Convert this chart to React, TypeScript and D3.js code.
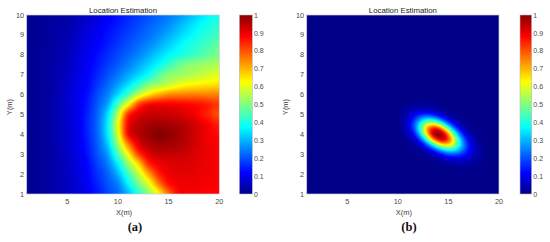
import React, { useMemo } from 'react';
import * as d3 from 'd3';

const W = 550;
const H = 242;

// ---------- Panel (a): values at x = 1..20 (columns), y = 10..1 step 0.5 (rows) ----------
const xA = [1, 2, 3, 4, 5, 6, 7, 8, 9, 10, 11, 12, 13, 14, 15, 16, 17, 18, 19, 20];
const yA = [10, 9.5, 9, 8.5, 8, 7.5, 7, 6.5, 6, 5.5, 5, 4.5, 4, 3.5, 3, 2.5, 2, 1.5, 1];
const rowA100 = [0.01, 0.01, 0.02, 0.02, 0.03, 0.045, 0.06, 0.085, 0.11, 0.135, 0.156, 0.177, 0.198, 0.219, 0.24, 0.268, 0.304, 0.34, 0.372, 0.39];
const rowA095 = [0.01, 0.015, 0.02, 0.03, 0.035, 0.057, 0.08, 0.10, 0.123, 0.146, 0.168, 0.19, 0.213, 0.235, 0.262, 0.297, 0.333, 0.368, 0.395, 0.415];
const rowA090 = [0.01, 0.015, 0.02, 0.03, 0.04, 0.064, 0.087, 0.111, 0.135, 0.159, 0.183, 0.207, 0.231, 0.257, 0.292, 0.326, 0.361, 0.392, 0.418, 0.44];
const rowA085 = [0.01, 0.015, 0.02, 0.035, 0.045, 0.07, 0.095, 0.12, 0.146, 0.173, 0.199, 0.226, 0.254, 0.29, 0.327, 0.364, 0.395, 0.42, 0.445, 0.47];
const rowA080 = [0.01, 0.015, 0.025, 0.035, 0.05, 0.077, 0.103, 0.131, 0.161, 0.19, 0.22, 0.25, 0.289, 0.328, 0.367, 0.394, 0.42, 0.447, 0.474, 0.50];
const rowA075 = [0.01, 0.015, 0.025, 0.04, 0.055, 0.083, 0.111, 0.142, 0.176, 0.211, 0.245, 0.287, 0.331, 0.375, 0.427, 0.479, 0.508, 0.522, 0.536, 0.55];
const rowA070 = [0.01, 0.015, 0.025, 0.04, 0.06, 0.09, 0.118, 0.157, 0.198, 0.238, 0.284, 0.332, 0.382, 0.456, 0.507, 0.526, 0.544, 0.563, 0.581, 0.60];
const rowA065 = [0.01, 0.015, 0.025, 0.04, 0.065, 0.095, 0.125, 0.174, 0.223, 0.279, 0.343, 0.417, 0.50, 0.536, 0.571, 0.607, 0.63, 0.64, 0.65, 0.66];
const rowA060 = [0.01, 0.015, 0.025, 0.045, 0.07, 0.10, 0.136, 0.193, 0.25, 0.339, 0.443, 0.563, 0.652, 0.706, 0.742, 0.75, 0.755, 0.755, 0.752, 0.75];
const rowA055 = [0.01, 0.015, 0.025, 0.045, 0.07, 0.10, 0.145, 0.21, 0.29, 0.458, 0.625, 0.806, 0.88, 0.89, 0.89, 0.885, 0.877, 0.865, 0.845, 0.82];
const rowA050 = [0.01, 0.015, 0.025, 0.045, 0.07, 0.10, 0.153, 0.222, 0.344, 0.562, 0.833, 0.91, 0.93, 0.935, 0.93, 0.92, 0.905, 0.875, 0.84, 0.80];
const rowA045 = [0.01, 0.015, 0.025, 0.045, 0.07, 0.10, 0.157, 0.228, 0.367, 0.613, 0.88, 0.945, 0.965, 0.975, 0.97, 0.96, 0.94, 0.91, 0.88, 0.85];
const rowA040 = [0.01, 0.015, 0.025, 0.045, 0.07, 0.10, 0.154, 0.225, 0.358, 0.59, 0.875, 0.95, 0.98, 1.0, 0.99, 0.97, 0.945, 0.915, 0.89, 0.87];
const rowA035 = [0.01, 0.015, 0.025, 0.045, 0.07, 0.095, 0.146, 0.215, 0.324, 0.529, 0.75, 0.905, 0.955, 0.975, 0.97, 0.96, 0.94, 0.915, 0.895, 0.88];
const rowA030 = [0.01, 0.015, 0.025, 0.04, 0.065, 0.09, 0.138, 0.204, 0.28, 0.45, 0.625, 0.813, 0.905, 0.935, 0.94, 0.935, 0.925, 0.91, 0.895, 0.885];
const rowA025 = [0.01, 0.015, 0.025, 0.04, 0.06, 0.09, 0.125, 0.185, 0.244, 0.363, 0.518, 0.661, 0.833, 0.89, 0.91, 0.915, 0.915, 0.905, 0.895, 0.885];
const rowA020 = [0.01, 0.015, 0.025, 0.04, 0.06, 0.085, 0.12, 0.167, 0.219, 0.30, 0.434, 0.56, 0.708, 0.841, 0.895, 0.905, 0.905, 0.90, 0.893, 0.885];
const rowA015 = [0.01, 0.015, 0.025, 0.04, 0.055, 0.08, 0.113, 0.154, 0.202, 0.25, 0.364, 0.488, 0.594, 0.75, 0.864, 0.89, 0.895, 0.895, 0.89, 0.885];
const rowA010 = [0.01, 0.015, 0.025, 0.04, 0.055, 0.078, 0.106, 0.142, 0.185, 0.228, 0.302, 0.406, 0.511, 0.625, 0.775, 0.88, 0.885, 0.885, 0.88, 0.88];
const gridA = [
  rowA100, rowA095, rowA090, rowA085, rowA080, rowA075, rowA070, rowA065, rowA060, rowA055,
  rowA050, rowA045, rowA040, rowA035, rowA030, rowA025, rowA020, rowA015, rowA010,
];

// ---------- Panel (b): values near the peak; zero elsewhere ----------
const xB = [10.5, 11, 11.5, 12, 12.5, 13, 13.5, 14, 14.5, 15, 15.5, 16, 16.5, 17, 17.5, 18, 18.5];
const yB = [5.75, 5.5, 5.25, 5, 4.75, 4.5, 4.25, 4, 3.75, 3.5, 3.25, 3, 2.75, 2.5, 2.25];
const rowB575 = [0, 0, 0, 0.004, 0.004, 0.003, 0.002, 0.001, 0, 0, 0, 0, 0, 0, 0, 0, 0];
const rowB550 = [0.005, 0.01, 0.014, 0.017, 0.017, 0.015, 0.01, 0.006, 0.003, 0, 0, 0, 0, 0, 0, 0, 0];
const rowB525 = [0.014, 0.026, 0.04, 0.054, 0.06, 0.057, 0.044, 0.029, 0.016, 0.007, 0.003, 0, 0, 0, 0, 0, 0];
const rowB500 = [0.024, 0.05, 0.088, 0.129, 0.159, 0.164, 0.142, 0.104, 0.063, 0.032, 0.014, 0.005, 0.002, 0, 0, 0, 0];
const rowB475 = [0.032, 0.073, 0.142, 0.232, 0.317, 0.364, 0.346, 0.279, 0.188, 0.107, 0.051, 0.021, 0.008, 0.002, 0, 0, 0];
const rowB450 = [0.031, 0.081, 0.173, 0.313, 0.472, 0.60, 0.638, 0.566, 0.423, 0.268, 0.144, 0.067, 0.027, 0.009, 0.003, 0.001, 0];
const rowB425 = [0.024, 0.067, 0.16, 0.318, 0.533, 0.748, 0.879, 0.868, 0.72, 0.509, 0.308, 0.16, 0.071, 0.027, 0.009, 0.003, 0.001];
const rowB400 = [0.013, 0.042, 0.111, 0.244, 0.453, 0.703, 0.916, 1.0, 0.925, 0.733, 0.497, 0.288, 0.143, 0.061, 0.022, 0.007, 0.002];
const rowB375 = [0.005, 0.02, 0.058, 0.142, 0.289, 0.499, 0.718, 0.87, 0.902, 0.80, 0.606, 0.394, 0.219, 0.104, 0.042, 0.015, 0.005];
const rowB350 = [0.002, 0.007, 0.023, 0.061, 0.139, 0.267, 0.424, 0.575, 0.667, 0.662, 0.562, 0.409, 0.255, 0.136, 0.062, 0.024, 0.008];
const rowB325 = [0, 0.002, 0.007, 0.02, 0.051, 0.107, 0.189, 0.288, 0.374, 0.415, 0.395, 0.321, 0.224, 0.134, 0.069, 0.03, 0.011];
const rowB300 = [0, 0, 0.002, 0.006, 0.014, 0.032, 0.064, 0.11, 0.158, 0.197, 0.21, 0.192, 0.15, 0.10, 0.057, 0.028, 0.012];
const rowB275 = [0, 0, 0, 0.001, 0.003, 0.008, 0.017, 0.031, 0.051, 0.071, 0.085, 0.087, 0.076, 0.057, 0.036, 0.02, 0.01];
const rowB250 = [0, 0, 0, 0, 0.001, 0.002, 0.003, 0.007, 0.013, 0.02, 0.026, 0.03, 0.029, 0.024, 0.017, 0.011, 0.006];
const rowB225 = [0, 0, 0, 0, 0, 0, 0, 0, 0.002, 0.004, 0.006, 0.008, 0.008, 0.008, 0.007, 0.005, 0.003];
const gridB = [rowB575, rowB550, rowB525, rowB500, rowB475, rowB450, rowB425, rowB400, rowB375, rowB350, rowB325, rowB300, rowB275, rowB250, rowB225];

// ---------- Ticks / labels ----------
const xTicks = [5, 10, 15, 20];
const yTicks = [1, 2, 3, 4, 5, 6, 7, 8, 9, 10];
const cbTicks = [0, 0.1, 0.2, 0.3, 0.4, 0.5, 0.6, 0.7, 0.8, 0.9, 1];
const cbLabels = ['0', '0.1', '0.2', '0.3', '0.4', '0.5', '0.6', '0.7', '0.8', '0.9', '1'];
const titleText = 'Location Estimation';
const xLabelText = 'X(m)';
const yLabelText = 'Y(m)';
const panelLabels = ['(a)', '(b)'];

const SANS = '"Liberation Sans", Arial, Helvetica, sans-serif';

function clamp01(v: number) {
  return v < 0 ? 0 : v > 1 ? 1 : v;
}

function jet(v: number): [number, number, number] {
  const t = clamp01(v) * 0.985 + 0.0075;
  const r = clamp01(1.5 - Math.abs(4 * t - 3));
  const g = clamp01(1.5 - Math.abs(4 * t - 2));
  const b = clamp01(1.5 - Math.abs(4 * t - 1));
  return [r * 255, g * 255, b * 255];
}

function cr(p0: number, p1: number, p2: number, p3: number, t: number) {
  return (
    0.5 *
    (2 * p1 +
      (-p0 + p2) * t +
      (2 * p0 - 5 * p1 + 4 * p2 - p3) * t * t +
      (-p0 + 3 * p1 - 3 * p2 + p3) * t * t * t)
  );
}

function sample(grid: number[][], xs: number[], ys: number[], clampEdges: boolean, x: number, y: number) {
  const nx = xs.length;
  const ny = ys.length;
  const fx = (x - xs[0]) / (xs[1] - xs[0]);
  const fy = (y - ys[0]) / (ys[1] - ys[0]);
  if (!clampEdges && (fx < -1 || fy < -1 || fx > nx || fy > ny)) return 0;
  const get = (i: number, j: number) => {
    if (clampEdges) {
      const ii = Math.max(0, Math.min(nx - 1, i));
      const jj = Math.max(0, Math.min(ny - 1, j));
      return grid[jj][ii];
    }
    if (i < 0 || j < 0 || i >= nx || j >= ny) return 0;
    return grid[j][i];
  };
  const i0 = Math.floor(fx);
  const j0 = Math.floor(fy);
  const tx = fx - i0;
  const ty = fy - j0;
  const rows: number[] = [];
  for (let k = -1; k <= 2; k++) {
    const j = j0 + k;
    rows.push(cr(get(i0 - 1, j), get(i0, j), get(i0 + 1, j), get(i0 + 2, j), tx));
  }
  return clamp01(cr(rows[0], rows[1], rows[2], rows[3], ty));
}

type PanelProps = {
  grid: number[][];
  xs: number[];
  ys: number[];
  clampEdges: boolean;
  left: number;
  right: number;
  cbX: number;
  cbW: number;
  label: string;
  labelX: number;
  yLabelX: number;
};

const TOP = 15;
const BOTTOM = 194;

function Panel({ grid, xs, ys, clampEdges, left, right, cbX, cbW, label, labelX, yLabelX }: PanelProps) {
  const xScale = d3.scaleLinear().domain([1, 20]).range([left, right]);
  const yScale = d3.scaleLinear().domain([1, 10]).range([BOTTOM, TOP]);
  const cScale = d3.scaleLinear().domain([0, 1]).range([BOTTOM, TOP]);

  const heat = useMemo(() => {
    const w = Math.round(right - left);
    const h = Math.round(BOTTOM - TOP);
    const canvas = document.createElement('canvas');
    canvas.width = w;
    canvas.height = h;
    const ctx = canvas.getContext('2d');
    if (!ctx) return '';
    const img = ctx.createImageData(w, h);
    for (let j = 0; j < h; j++) {
      const y = yScale.invert(TOP + ((j + 0.5) * (BOTTOM - TOP)) / h);
      for (let i = 0; i < w; i++) {
        const x = xScale.invert(left + ((i + 0.5) * (right - left)) / w);
        const v = sample(grid, xs, ys, clampEdges, x, y);
        const [r, g, b] = jet(v);
        const k = (j * w + i) * 4;
        img.data[k] = r;
        img.data[k + 1] = g;
        img.data[k + 2] = b;
        img.data[k + 3] = 255;
      }
    }
    ctx.putImageData(img, 0, 0);
    return canvas.toDataURL();
  }, [grid, xs, ys, clampEdges, left, right]);

  const bar = useMemo(() => {
    const h = Math.round(BOTTOM - TOP);
    const canvas = document.createElement('canvas');
    canvas.width = 1;
    canvas.height = h;
    const ctx = canvas.getContext('2d');
    if (!ctx) return '';
    const img = ctx.createImageData(1, h);
    for (let j = 0; j < h; j++) {
      const v = cScale.invert(TOP + ((j + 0.5) * (BOTTOM - TOP)) / h);
      const [r, g, b] = jet(v);
      img.data[j * 4] = r;
      img.data[j * 4 + 1] = g;
      img.data[j * 4 + 2] = b;
      img.data[j * 4 + 3] = 255;
    }
    ctx.putImageData(img, 0, 0);
    return canvas.toDataURL();
  }, []);

  const midX = (left + right) / 2;
  return (
    <g>
      <image href={heat} x={left} y={TOP} width={right - left} height={BOTTOM - TOP} preserveAspectRatio="none" />
      <rect x={left} y={TOP} width={right - left} height={BOTTOM - TOP} fill="none" stroke="#c9ccd6" strokeWidth={0.7} />
      <text x={midX} y={12.6} textAnchor="middle" fontFamily={SANS} fontSize={7.8} fill="#1a1a1a">
        {titleText}
      </text>
      {xTicks.map((t) => (
        <text key={'x' + t} x={xScale(t)} y={203.8} textAnchor="middle" fontFamily={SANS} fontSize={7.3} fill="#4a4a4a">
          {t}
        </text>
      ))}
      {yTicks.map((t) => (
        <text key={'y' + t} x={left - 2.6} y={yScale(t) + 2.6} textAnchor="end" fontFamily={SANS} fontSize={7.3} fill="#4a4a4a">
          {t}
        </text>
      ))}
      <text x={midX + 1} y={214.6} textAnchor="middle" fontFamily={SANS} fontSize={7.5} fill="#3a3a3a">
        {xLabelText}
      </text>
      <text
        transform={`translate(${yLabelX},${107}) rotate(-90)`}
        textAnchor="middle"
        fontFamily={SANS}
        fontSize={7.5}
        fill="#3a3a3a"
      >
        {yLabelText}
      </text>
      <image href={bar} x={cbX} y={TOP} width={cbW} height={BOTTOM - TOP} preserveAspectRatio="none" />
      <rect x={cbX} y={TOP} width={cbW} height={BOTTOM - TOP} fill="none" stroke="#b8bac4" strokeWidth={0.6} />
      {cbTicks.map((t, i) => (
        <text key={'c' + t} x={cbX + cbW + 1.6} y={cScale(t) + 2.6} textAnchor="start" fontFamily={SANS} fontSize={7} fill="#4a4a4a">
          {cbLabels[i]}
        </text>
      ))}
      <text x={labelX} y={231} textAnchor="middle" fontFamily='"Liberation Serif", "DejaVu Serif", serif' fontWeight="bold" fontSize={12.5} fill="#111">
        {label}
      </text>
    </g>
  );
}

export default function App() {
  return (
    <svg width={W} height={H} viewBox={`0 0 ${W} ${H}`} style={{ position: 'absolute', left: 0, top: 0, background: '#fff' }}>
      <rect x={0} y={0} width={W} height={H} fill="#fff" />
      <Panel
        grid={gridA}
        xs={xA}
        ys={yA}
        clampEdges={true}
        left={26.7}
        right={219.3}
        cbX={239.3}
        cbW={13}
        label={panelLabels[0]}
        labelX={135}
        yLabelX={11.5}
      />
      <Panel
        grid={gridB}
        xs={xB}
        ys={yB}
        clampEdges={false}
        left={306.7}
        right={499}
        cbX={520}
        cbW={11.7}
        label={panelLabels[1]}
        labelX={409}
        yLabelX={288}
      />
    </svg>
  );
}
